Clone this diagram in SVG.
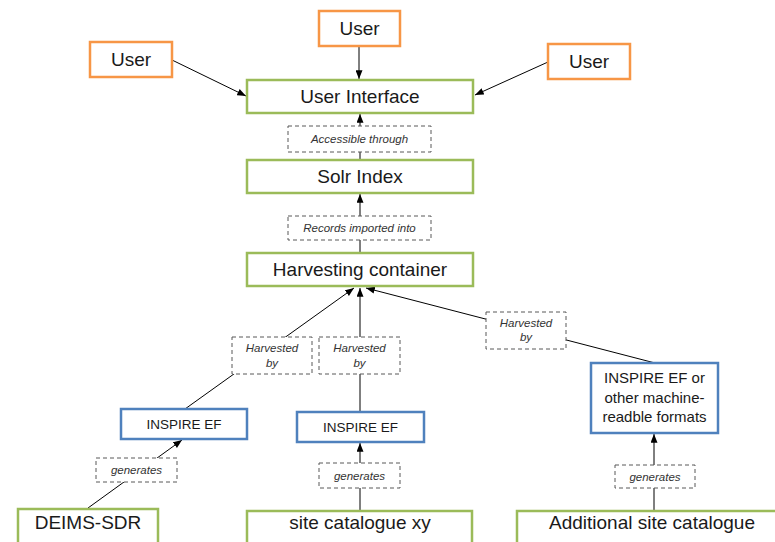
<svg xmlns="http://www.w3.org/2000/svg" width="775" height="542" viewBox="0 0 775 542">
<style>
  text { font-family: "Liberation Sans", Arial, sans-serif; fill: #1a1a1a; text-anchor: middle; }
  .big { font-size: 19px; }
  .mid { font-size: 15px; }
  .ef { font-size: 13.5px; }
  .lbl { font-size: 11.5px; font-style: italic; fill: #333333; }
  .user { fill: #ffffff; stroke: #F79646; stroke-width: 2.5; }
  .green { fill: #ffffff; stroke: #9BBB59; stroke-width: 2.5; }
  .blue { fill: #ffffff; stroke: #4F81BD; stroke-width: 2.5; }
  .dash { fill: #ffffff; stroke: #595959; stroke-width: 1; stroke-dasharray: 4 3; }
  .conn { stroke: #000000; stroke-width: 1; fill: none; }
</style>
<defs>
  <marker id="arr" viewBox="0 0 10 8" refX="10" refY="4" markerWidth="9" markerHeight="7" markerUnits="userSpaceOnUse" orient="auto">
    <path d="M0,0 L10,4 L0,8 z" fill="#000000"/>
  </marker>
</defs>
<rect width="775" height="542" fill="#ffffff"/>

<g id="connectors">
  <line class="conn" x1="172" y1="60" x2="246" y2="96" marker-end="url(#arr)"/>
  <line class="conn" x1="359" y1="46" x2="359" y2="79" marker-end="url(#arr)"/>
  <line class="conn" x1="548" y1="62" x2="475" y2="95" marker-end="url(#arr)"/>
  <line class="conn" x1="360" y1="160" x2="360" y2="114" marker-end="url(#arr)"/>
  <line class="conn" x1="360" y1="253" x2="360" y2="194" marker-end="url(#arr)"/>
  <line class="conn" x1="185" y1="409" x2="354" y2="288" marker-end="url(#arr)"/>
  <line class="conn" x1="360" y1="412" x2="360" y2="288" marker-end="url(#arr)"/>
  <line class="conn" x1="655" y1="363" x2="366" y2="288" marker-end="url(#arr)"/>
  <line class="conn" x1="88" y1="508" x2="182" y2="440" marker-end="url(#arr)"/>
  <line class="conn" x1="360" y1="511" x2="360" y2="443" marker-end="url(#arr)"/>
  <line class="conn" x1="654" y1="511" x2="654" y2="434" marker-end="url(#arr)"/>
</g>

<g id="user-top"><rect class="user" x="319" y="11" width="81" height="35"/><text class="big" x="359.5" y="35">User</text></g>
<g id="user-left"><rect class="user" x="90" y="42" width="82" height="35"/><text class="big" x="131" y="66">User</text></g>
<g id="user-right"><rect class="user" x="548" y="44" width="82" height="35"/><text class="big" x="589" y="68">User</text></g>

<g id="user-interface"><rect class="green" x="247" y="80" width="226" height="33"/><text class="big" x="360" y="103">User Interface</text></g>
<g id="lbl-accessible"><rect class="dash" x="288" y="126" width="143" height="26"/><text class="lbl" x="359.5" y="143">Accessible through</text></g>
<g id="solr-index"><rect class="green" x="247" y="160" width="226" height="33"/><text class="big" x="360" y="183">Solr Index</text></g>
<g id="lbl-records"><rect class="dash" x="288" y="216" width="143" height="24"/><text class="lbl" x="359.5" y="232">Records imported into</text></g>
<g id="harvesting-container"><rect class="green" x="247" y="253" width="226" height="33"/><text class="big" x="360" y="276">Harvesting container</text></g>

<g id="lbl-harvested-left"><rect class="dash" x="232" y="337" width="80" height="37"/><text class="lbl" x="272" y="352">Harvested</text><text class="lbl" x="272" y="367">by</text></g>
<g id="lbl-harvested-mid"><rect class="dash" x="319" y="337" width="81" height="37"/><text class="lbl" x="359.5" y="352">Harvested</text><text class="lbl" x="359.5" y="367">by</text></g>
<g id="lbl-harvested-right"><rect class="dash" x="486" y="312" width="80" height="37"/><text class="lbl" x="526" y="327">Harvested</text><text class="lbl" x="526" y="341">by</text></g>

<g id="inspire-left"><rect class="blue" x="121" y="409" width="126" height="30"/><text class="ef" x="184" y="429">INSPIRE EF</text></g>
<g id="inspire-mid"><rect class="blue" x="297" y="412" width="127" height="30"/><text class="ef" x="360.5" y="432">INSPIRE EF</text></g>
<g id="inspire-right"><rect class="blue" x="591" y="363" width="127" height="70"/><text class="mid" x="654.5" y="383">INSPIRE EF or</text><text class="mid" x="654.5" y="403">other machine-</text><text class="mid" x="654.5" y="422">readble formats</text></g>

<g id="lbl-generates-left"><rect class="dash" x="96" y="458" width="81" height="24"/><text class="lbl" x="136.5" y="474">generates</text></g>
<g id="lbl-generates-mid"><rect class="dash" x="319" y="463" width="81" height="25"/><text class="lbl" x="359.5" y="479.5">generates</text></g>
<g id="lbl-generates-right"><rect class="dash" x="615" y="465" width="80" height="23"/><text class="lbl" x="655" y="480.5">generates</text></g>

<g id="deims-sdr"><rect class="green" x="18" y="509" width="140" height="50"/><text class="big" x="88" y="529">DEIMS-SDR</text></g>
<g id="site-catalogue-xy"><rect class="green" x="247" y="511" width="225" height="50"/><text class="big" x="360" y="529">site catalogue xy</text></g>
<g id="additional-site-catalogue"><rect class="green" x="517" y="511" width="270" height="50"/><text class="big" x="652" y="529">Additional site catalogue</text></g>
</svg>
